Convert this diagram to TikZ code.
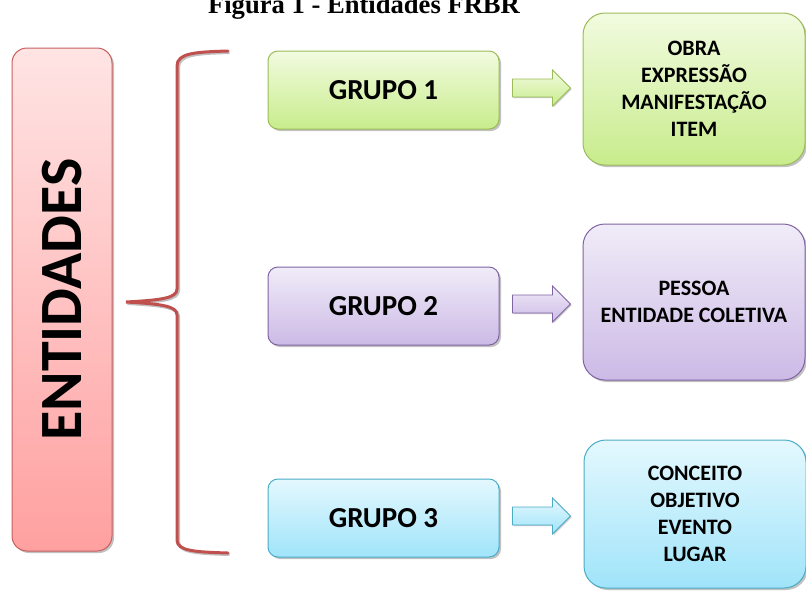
\documentclass[tikz,border=0pt]{standalone}
\usepackage{fontspec}
\setmainfont{Carlito}
\newfontfamily\titlefont{Liberation Serif}
\usetikzlibrary{shadows,calc}

% palette
\definecolor{redline}{RGB}{192,80,77}
\definecolor{redborder}{RGB}{200,95,95}
\definecolor{redtop}{RGB}{255,228,228}
\definecolor{redbot}{RGB}{255,160,160}
\definecolor{grnborder}{RGB}{155,187,89}
\definecolor{grntop}{RGB}{242,251,224}
\definecolor{grnbot}{RGB}{200,236,140}
\definecolor{purborder}{RGB}{128,100,162}
\definecolor{purtop}{RGB}{240,236,248}
\definecolor{purbot}{RGB}{204,186,230}
\definecolor{bluborder}{RGB}{75,172,198}
\definecolor{blutop}{RGB}{228,248,254}
\definecolor{blubot}{RGB}{160,228,250}

\begin{document}
\begin{tikzpicture}[x=1pt,y=-1pt,
  softshadow/.style={drop shadow={shadow xshift=2pt,shadow yshift=-2pt,opacity=0.35,fill=black!70}},
  panel/.style={draw,line width=1pt,inner sep=0pt,align=center,softshadow},
  groupbox/.style={panel,rounded corners=10pt,minimum width=231pt,minimum height=78pt,
    font=\bfseries\fontsize{29}{34}\selectfont},
  resultbox/.style={panel,rounded corners=22pt,minimum width=222pt,
    font=\bfseries\fontsize{22}{27}\selectfont},
  greenfill/.style={draw=grnborder,top color=grntop,bottom color=grnbot},
  purplefill/.style={draw=purborder,top color=purtop,bottom color=purbot},
  bluefill/.style={draw=bluborder,top color=blutop,bottom color=blubot},
  blockarrow/.style={line width=0.8pt,line join=miter,
    drop shadow={shadow xshift=1.2pt,shadow yshift=-1.2pt,opacity=0.3,fill=black!70}},
  bracestyle/.style={draw=redline,line width=3pt,line cap=round,
    preaction={draw=black,opacity=0.25,line width=3pt,transform canvas={xshift=1.5pt,yshift=-1.5pt}}}
]
\useasboundingbox (0,0) rectangle (806,590);

% caption, partly cut at the top edge
\node[anchor=base,inner sep=0pt,font=\titlefont\bfseries\fontsize{26.6}{30}\selectfont]
  (title) at (364,13) {Figura 1 - Entidades FRBR};

% the tall entity panel
\node[panel,rounded corners=15pt,minimum width=100pt,minimum height=503pt,
  draw=redborder,top color=redtop,bottom color=redbot,
  font=\bfseries\fontsize{60}{60}\selectfont] (ent) at (62,299.5)
  {\rotatebox{90}{ENTIDADES}};

% the brace that gathers the three groups
\coordinate (bracetop) at (228,51);
\coordinate (bracetip) at (126,302);
\coordinate (bracebot) at (228,553);
\draw[bracestyle] (bracetop)
  .. controls (195,52) and (177,53) .. (177,66)
  -- (177,289)
  .. controls (177,298) and (162,300) .. (bracetip)
  .. controls (162,304) and (177,306) .. (177,315)
  -- (177,540)
  .. controls (177,551) and (195,552) .. (bracebot);

% groups
\node[groupbox,greenfill]  (g1) at (383.5,90)  {GRUPO 1};
\node[groupbox,purplefill] (g2) at (383.5,306) {GRUPO 2};
\node[groupbox,bluefill]   (g3) at (383.5,518) {GRUPO 3};

% entities of each group
\node[resultbox,greenfill,minimum height=152pt] (r1) at (694,89)
  {OBRA\\EXPRESSÃO\\MANIFESTAÇÃO\\ITEM};
\node[resultbox,purplefill,minimum height=156pt] (r2) at (694,302)
  {PESSOA\\ENTIDADE COLETIVA};
\node[resultbox,bluefill,minimum height=148pt] (r3) at (695,514)
  {CONCEITO\\OBJETIVO\\EVENTO\\LUGAR};

% block arrows from each group to its entities
\foreach \g/\fillstyle in {g1/greenfill,g2/purplefill,g3/bluefill}{
  \path (\g.east) ++(13,-2) coordinate (\g-arrow);
  \draw[blockarrow,\fillstyle] (\g-arrow) ++(0,-9) -- ++(40,0) -- ++(0,-9)
    -- ++(18,18) -- ++(-18,18) -- ++(0,-9) -- ++(-40,0) -- cycle;
}
\end{tikzpicture}
\end{document}
